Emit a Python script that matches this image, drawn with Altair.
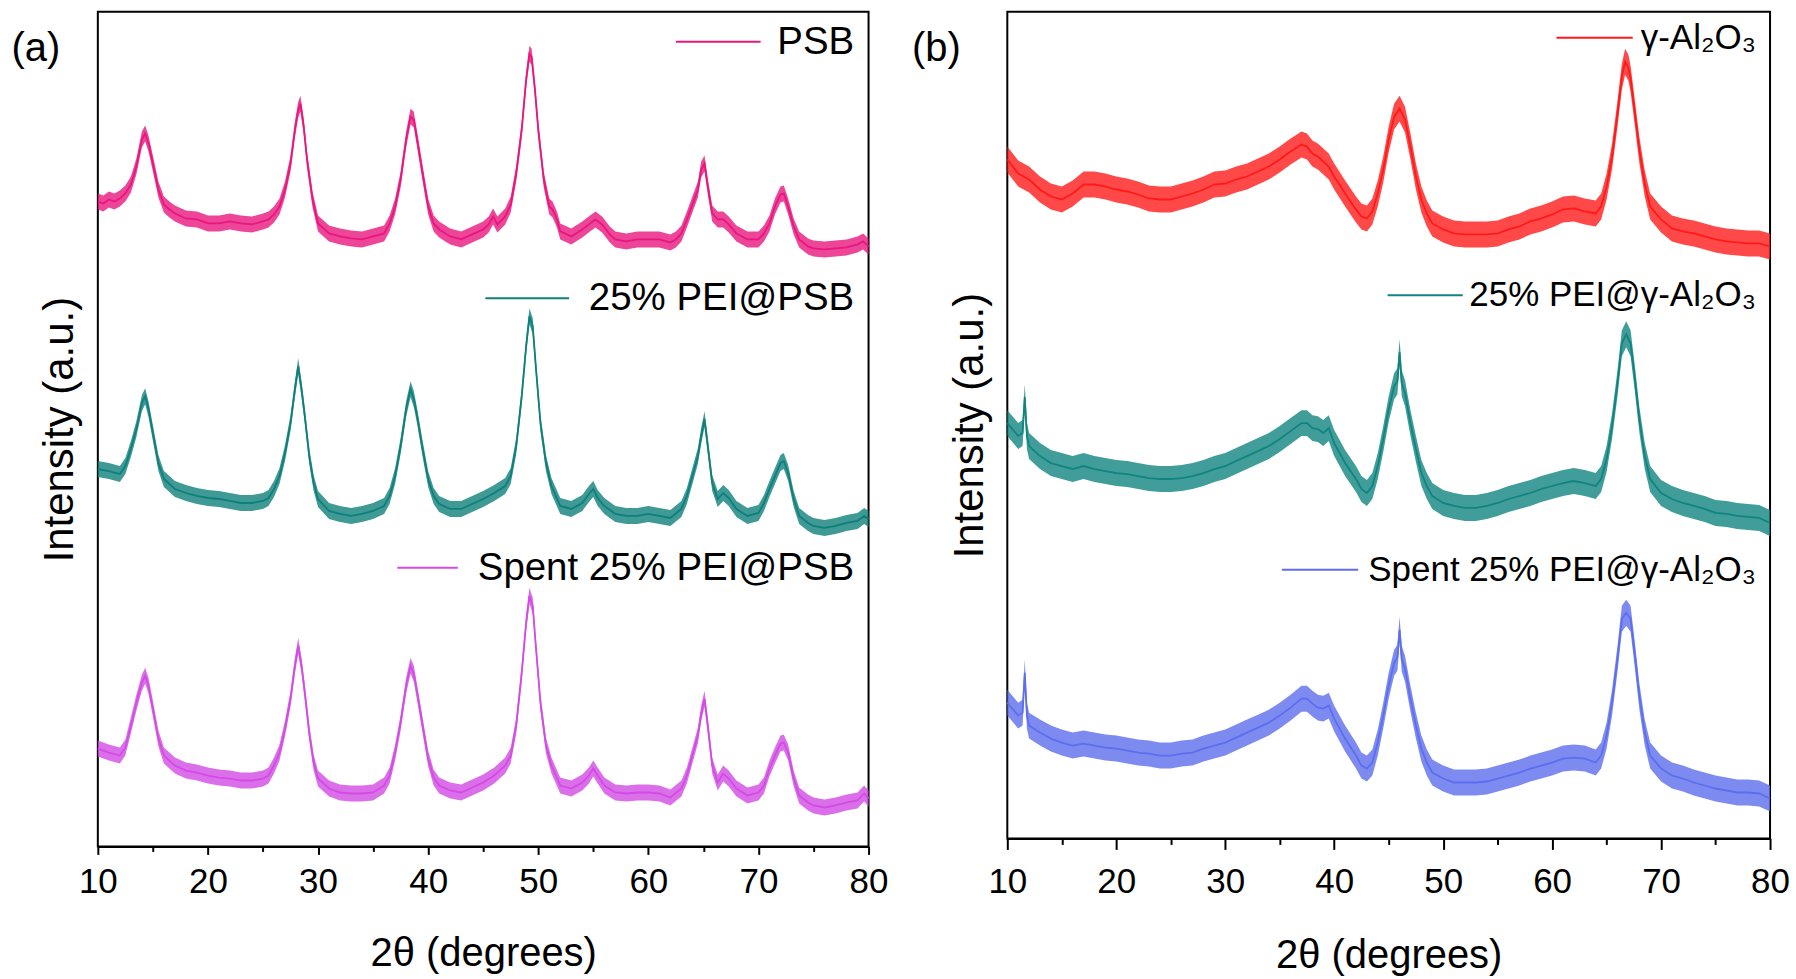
import altair as alt
import pandas as pd

FONT = "Liberation Sans, Arial, sans-serif"

# ---------------- data (2theta in degrees, offset intensity in a.u.) ----------------
PSB = [(10,646),(10.5,644),(11,648),(11.5,646),(12,649),(12.5,654),(13,663),(13.5,681),(14,708),(14.3,714),(14.6,704),
       (15,684),(15.5,658),(16,643),(16.5,638),(17,634),(18,629),(19,628),(20,624),(21,624),(22,626),(23,624),(24,623),
       (25,626),(25.5,628),(26,633),(26.5,641),(27,658),(27.5,684),(27.9,718),(28.2,738),(28.4,744),(28.7,721),(29,688),
       (29.5,648),(30,624),(31,614),(32,611),(33,609),(34,608),(35,611),(36,614),(36.5,624),(37,641),(37.5,668),(38,708),
       (38.4,731),(38.7,728),(39,708),(39.5,674),(40,641),(40.5,624),(41,618),(42,611),(43,608),(44,613),(45,618),
       (45.5,623),(45.9,631),(46.3,623),(47,631),(47.5,643),(48,674),(48.5,718),(48.9,768),(49.2,794),(49.4,791),
       (49.7,758),(50,718),(50.5,668),(51,641),(51.3,638),(51.7,628),(52,616),(53,611),(54,618),(54.7,624),(55.2,628),
       (55.8,623),(56.5,613),(57,608),(58,606),(59,608),(60,608),(61,608),(62,605),(62.5,608),(63,614),(63.5,628),
       (64,643),(64.5,658),(64.8,678),(65.1,684),(65.4,661),(65.8,634),(66.3,628),(66.8,628),(67.3,623),(68,614),
       (69,608),(70,608),(70.5,614),(71,624),(71.5,641),(72,653),(72.3,654),(72.7,641),(73.2,621),(73.7,608),
       (74.5,601),(75,599),(76,598),(77,599),(78,600),(79,603),(79.5,606),(80,601)]

PEI_PSB = [(10,378),(11,376),(12,373),(12.5,381),(13,398),(13.5,418),(14,444),(14.3,451),(14.6,438),(15,414),(15.5,384),
           (16,368),(17,358),(18,354),(19,351),(20,349),(21,348),(22,346),(23,344),(24,344),(25,346),(25.5,349),(26,358),
           (26.5,371),(27,394),(27.5,424),(27.9,458),(28.2,481),(28.5,458),(28.8,431),(29.2,391),(29.6,364),(30,348),
           (31,336),(32,333),(33,331),(34,333),(35,336),(36,341),(36.5,351),(37,371),(37.5,401),(38,438),(38.4,458),
           (38.7,448),(39,431),(39.5,398),(40,368),(40.5,351),(41,343),(42,338),(43,338),(44,343),(45,348),(46,354),
           (47,361),(47.5,371),(48,401),(48.5,451),(48.9,501),(49.2,531),(49.5,521),(49.8,478),(50.2,424),(50.7,384),
           (51.2,361),(52,341),(53,338),(54,344),(54.6,353),(55,358),(55.4,349),(56,341),(57,333),(58,331),(59,331),
           (60,333),(61,331),(62,329),(63,338),(63.5,351),(64,371),(64.5,391),(64.8,411),(65.1,428),(65.4,401),
           (65.8,364),(66.3,348),(66.8,354),(67.3,349),(68,338),(69,331),(70,334),(70.5,344),(71,358),(71.5,371),
           (72,384),(72.3,386),(72.7,374),(73.2,348),(73.7,331),(74.5,324),(75,321),(76,319),(77,321),(78,324),
           (79,326),(79.6,331),(80,328)]

SPENT_PSB = [(10,98),(11,94),(12,91),(12.5,99),(13,121),(13.5,144),(14,164),(14.3,171),(14.6,161),(15,138),(15.5,108),
             (16,91),(17,81),(18,76),(19,74),(20,71),(21,69),(22,68),(23,66),(24,66),(25,68),(25.5,71),(26,81),(26.5,94),
             (27,118),(27.5,148),(27.9,181),(28.2,201),(28.5,181),(28.8,154),(29.2,114),(29.6,84),(30,68),(31,58),
             (32,54),(33,53),(34,53),(35,54),(36,61),(36.5,71),(37,94),(37.5,124),(38,161),(38.4,181),(38.7,173),
             (39,154),(39.5,121),(40,88),(40.5,69),(41,61),(42,56),(43,54),(44,59),(45,64),(46,71),(47,81),(47.5,91),
             (48,121),(48.5,174),(48.9,224),(49.2,251),(49.5,241),(49.8,198),(50.2,144),(50.7,101),(51.2,81),(52,61),
             (53,58),(54,64),(54.6,71),(55,78),(55.4,71),(56,61),(57,54),(58,53),(59,54),(60,54),(61,53),(62,49),
             (63,58),(63.5,71),(64,91),(64.5,111),(64.8,133),(65.1,148),(65.4,121),(65.8,81),(66.3,64),(66.8,73),
             (67.3,68),(68,58),(69,51),(70,54),(70.5,61),(71,78),(71.5,91),(72,103),(72.3,104),(72.7,94),(73.2,68),
             (73.7,51),(74.5,44),(75,41),(76,39),(77,41),(78,44),(79,46),(79.6,53),(80,48)]

AL2O3 = [(10,680),(11,666),(12,660),(13,650),(14,643),(15,640),(16,646),(17,655),(18,655),(19,653),(20,650),(21,648),
         (22,645),(23,641),(24,640),(25,640),(26,643),(27,646),(28,650),(29,655),(30,656),(31,660),(32,663),(33,668),
         (34,673),(35,680),(36,688),(37,695),(37.5,693),(38,686),(38.5,683),(39,678),(39.5,673),(40,663),(41,646),
         (42,630),(42.5,623),(43,621),(43.5,628),(44,646),(44.5,670),(45,700),(45.5,723),(46,731),(46.5,720),(47,693),
         (47.5,663),(48,640),(48.5,626),(49,616),(50,610),(51,606),(52,605),(53,605),(54,605),(55,606),(56,610),
         (57,613),(58,618),(59,621),(60,625),(61,630),(62,631),(63,628),(64,626),(64.5,633),(65,653),(65.5,683),
         (66,726),(66.4,763),(66.7,778),(67.0,772),(67.2,761),(67.6,726),(68,690),(68.5,656),(69,633),(70,620),
         (71,611),(72,608),(73,606),(74,603),(75,600),(76,598),(77,597),(78,596),(79,596),(80,593)]

PEI_AL2O3 = [(10,416),(11,403),(11.4,406),(11.6,442),(11.8,403),(12,393),(13,383),(14,376),(15,373),(16,370),(17,373),
             (18,370),(19,368),(20,366),(21,365),(22,363),(23,361),(24,360),(25,360),(26,361),(27,363),(28,366),
             (29,370),(30,373),(31,378),(32,383),(33,388),(34,393),(35,400),(36,408),(37,416),(37.5,416),(38,411),
             (38.5,410),(39,406),(39.5,411),(40,396),(41,376),(42,360),(42.5,350),(43,346),(43.5,353),(44,373),
             (44.5,400),(45,430),(45.5,453),(45.8,458),(46,487),(46.2,456),(46.5,446),(47,416),(47.5,390),(48,366),
             (48.5,353),(49,343),(50,336),(51,333),(52,331),(53,331),(54,333),(55,336),(56,340),(57,343),(58,346),
             (59,350),(60,353),(61,356),(62,358),(63,356),(64,353),(64.5,360),(65,380),(65.5,413),(66,456),(66.4,496),
             (66.8,505),(67.2,496),(67.6,460),(68,420),(68.5,383),(69,360),(70,346),(71,340),(72,336),(73,333),
             (74,330),(75,326),(76,325),(77,323),(78,322),(79,321),(80,316)]

SPENT_AL2O3 = [(10,136),(11,123),(11.4,126),(11.6,166),(11.8,123),(12,113),(13,106),(14,100),(15,96),(16,93),(17,95),
               (18,93),(19,91),(20,90),(21,88),(22,86),(23,85),(24,83),(25,83),(26,85),(27,86),(28,90),(29,93),(30,96),
               (31,101),(32,106),(33,111),(34,116),(35,123),(36,131),(37,140),(37.5,140),(38,135),(38.5,131),(39,130),
               (39.5,133),(40,120),(41,100),(42,83),(42.5,73),(43,70),(43.5,76),(44,96),(44.5,123),(45,153),(45.5,176),
               (45.8,181),(46,209),(46.2,180),(46.5,170),(47,140),(47.5,113),(48,90),(48.5,76),(49,66),(50,60),(51,56),
               (52,56),(53,56),(54,57),(55,60),(56,63),(57,66),(58,70),(59,73),(60,76),(61,80),(62,81),(63,80),(64,76),
               (64.5,83),(65,103),(65.5,136),(66,180),(66.4,220),(66.8,226),(67.2,220),(67.6,183),(68,143),(68.5,106),
               (69,83),(70,70),(71,63),(72,60),(73,56),(74,53),(75,50),(76,48),(77,46),(78,46),(79,45),(80,40)]

LEFT_SERIES = ["PSB", "25% PEI@PSB", "Spent 25% PEI@PSB"]
RIGHT_SERIES = ["γ-Al₂O₃", "25% PEI@γ-Al₂O₃", "Spent 25% PEI@γ-Al₂O₃"]
X_TICKS = [10, 15, 20, 25, 30, 35, 40, 45, 50, 55, 60, 65, 70, 75, 80]

# ---------------- styles and annotation positions ----------------
LEFT_COLORS = ["#E8177E", "#0F7F7B", "#D24BE4"]
RIGHT_COLORS = ["#FF1A1A", "#10847F", "#5C6EEE"]
LEFT_LEG = {"x0": [62.5, 45.2, 37.2], "x1": [70.2, 52.8, 42.7], "y": [806, 549, 279]}
RIGHT_LEG = {"x0": [60.4, 44.9, 35.2], "x1": [67.4, 51.8, 42.2], "y": [802, 544, 269]}


def to_frame(points, name):
    return pd.DataFrame({"two_theta": [p[0] for p in points],
                         "intensity": [p[1] for p in points],
                         "series": name})


def panel(curves, series, colors, leg, ymax, band, tag, tag_x, w, h,
          tick_major, tick_minor, label_pad, title_pad, leg_size):
    df = pd.concat([to_frame(c, s) for c, s in zip(curves, series)], ignore_index=True)
    xs = alt.Scale(domain=[10, 80], nice=False, zero=False)
    ys = alt.Scale(domain=[0, ymax], nice=False, zero=False)
    xaxis = alt.Axis(values=X_TICKS, labelExpr="datum.value % 10 === 0 ? datum.label : ''",
                     tickSize={"condition": {"test": "datum.value % 10 === 0", "value": tick_major},
                               "value": tick_minor},
                     tickWidth=2, tickColor="black", domainColor="black", domainWidth=2,
                     labelFont=FONT, labelFontSize=35, labelColor="black", labelPadding=label_pad,
                     labelOverlap=False, labelFlush=False, grid=False,
                     title="2θ (degrees)", titleFont=FONT, titleFontSize=40, titleFontWeight="normal",
                     titleColor="black", titlePadding=title_pad)
    yaxis = alt.Axis(labels=False, ticks=False, domain=False, grid=False,
                     title="Intensity (a.u.)", titleFont=FONT, titleFontSize=42,
                     titleFontWeight="normal", titleColor="black", titlePadding=16)
    color = alt.Color("series:N", scale=alt.Scale(domain=series, range=colors), legend=None)

    bands = alt.Chart(df).transform_calculate(
        lo=f"datum.intensity - {band}", hi=f"datum.intensity + {band}"
    ).mark_area(opacity=0.8).encode(
        x=alt.X("two_theta:Q", scale=xs, axis=xaxis),
        y=alt.Y("lo:Q", scale=ys, axis=yaxis, stack=None),
        y2="hi:Q",
        color=color,
        detail="series:N",
    )
    lines = alt.Chart(df).mark_line(strokeWidth=1.8).encode(
        x=alt.X("two_theta:Q", scale=xs, axis=xaxis),
        y=alt.Y("intensity:Q", scale=ys, axis=yaxis),
        color=color,
        detail="series:N",
    )
    legdf = pd.DataFrame({"series": series, "x0": leg["x0"], "x1": leg["x1"],
                          "xt": [78.7] * 3, "y": leg["y"]})
    rules = alt.Chart(legdf).mark_rule(strokeWidth=2).encode(
        x=alt.X("x0:Q", scale=xs, axis=xaxis), x2="x1:Q",
        y=alt.Y("y:Q", scale=ys, axis=yaxis), color=color)
    texts = alt.Chart(legdf).mark_text(align="right", baseline="middle", font=FONT,
                                       fontSize=leg_size, color="black").encode(
        x=alt.X("xt:Q", scale=xs, axis=xaxis), y=alt.Y("y:Q", scale=ys, axis=yaxis), text="series:N")
    tagc = alt.Chart(pd.DataFrame({"t": [tag]})).mark_text(
        align="center", baseline="middle", font=FONT, fontSize=40, color="black"
    ).encode(x=alt.value(tag_x), y=alt.value(37), text="t:N")
    return alt.layer(bands, lines, rules, texts, tagc).properties(width=w, height=h)


left = panel([PSB, PEI_PSB, SPENT_PSB], LEFT_SERIES, LEFT_COLORS, LEFT_LEG, 836, 8, "(a)", -62,
             772, 836, 8, 5, 10, 34, 38.5)
right = panel([AL2O3, PEI_AL2O3, SPENT_AL2O3], RIGHT_SERIES, RIGHT_COLORS, RIGHT_LEG, 828, 13, "(b)", -71,
              764, 828, 11, 6, 15, 36, 35)

chart = alt.hconcat(left, right, spacing=21).resolve_scale(
    color="independent"
).properties(
    padding={"left": 10, "top": 10, "right": 5, "bottom": 5},
    background="white",
).configure_view(stroke="black", strokeWidth=2)

chart.save("out.html", embed_options={"renderer": "svg", "actions": False})
